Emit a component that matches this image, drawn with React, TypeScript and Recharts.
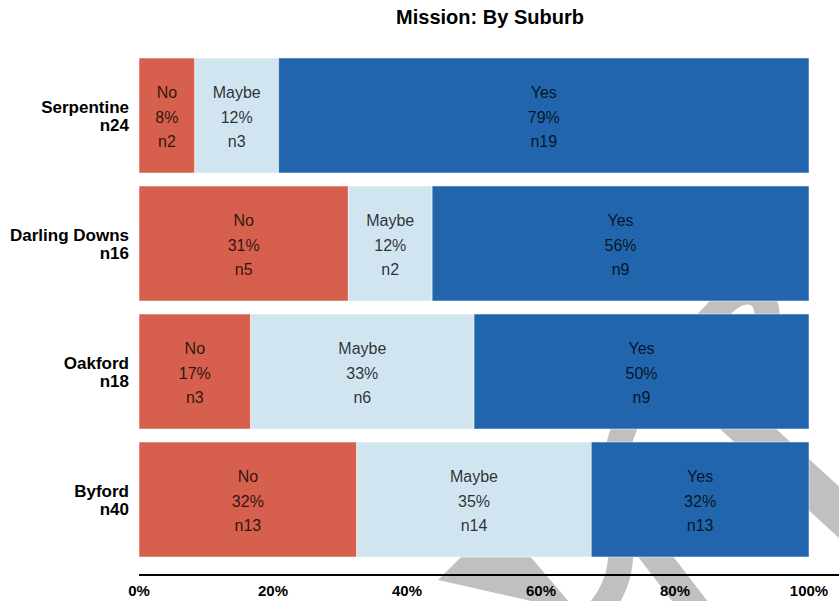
import React from 'react';
import { BarChart, Bar, XAxis, YAxis, LabelList } from 'recharts';

// Mission survey answers by suburb (counts and the printed percentages)
const suburbs = ['Serpentine', 'Darling Downs', 'Oakford', 'Byford'];
const totals = [24, 16, 18, 40];
const noCounts = [2, 5, 3, 13];
const maybeCounts = [3, 2, 6, 14];
const yesCounts = [19, 9, 9, 13];
const noPct = [8, 31, 17, 32];
const maybePct = [12, 12, 33, 35];
const yesPct = [79, 56, 50, 32];
const xTicks = [0, 0.2, 0.4, 0.6, 0.8, 1];

const data = suburbs.map((suburb, i) => ({
  suburb,
  No: noCounts[i],
  Maybe: maybeCounts[i],
  Yes: yesCounts[i],
}));

const WIDTH = 839;
const HEIGHT = 601;
const FONT = '"Liberation Sans", Arial, sans-serif';

const COLORS = {
  No: '#d6604d',
  Maybe: '#d1e5f0',
  Yes: '#2166ac',
};

const SuburbTick = (props: any) => {
  const { x, y, payload } = props;
  const i = suburbs.indexOf(payload.value);
  return (
    <text x={x} y={y} textAnchor="end" fontFamily={FONT} fontWeight="bold" fontSize={17} fill="#000">
      <tspan x={x} dy={-2}>{payload.value}</tspan>
      <tspan x={x} dy={18}>n{totals[i]}</tspan>
    </text>
  );
};

const renderSegLabel = (props: any, name: string, counts: number[], pct: number[]) => {
  const { x, y, width, height, index } = props;
  const cx = Number(x) + Number(width) / 2;
  const cy = Number(y) + Number(height) / 2;
  return (
    <text x={cx} textAnchor="middle" fontFamily={FONT} fontSize={16} fill="#000" fillOpacity={0.8}>
      <tspan x={cx} y={cy - 17.5}>{name}</tspan>
      <tspan x={cx} y={cy + 7}>{pct[index]}%</tspan>
      <tspan x={cx} y={cy + 31}>n{counts[index]}</tspan>
    </text>
  );
};

// grey watermark strokes sitting behind the chart
const Watermark = () => (
  <svg width={WIDTH} height={HEIGHT} style={{ position: 'absolute', left: 0, top: 0 }}>
    <g fill="none" stroke="#c0c0c0" strokeLinecap="butt">
      <path
        d="M 598 612 Q 625 580 620 540 L 618 450 C 625 400, 690 340, 716 313 C 735 285, 765 285, 767 313 L 762 380"
        strokeWidth={25}
      />
      <path d="M 700 385 L 900 568" strokeWidth={38} />
      <path d="M 612 500 L 722 643" strokeWidth={28} />
    </g>
    <path d="M 438 580 L 470 548 L 523 548 L 570 603 L 540 603 Z" fill="#c0c0c0" />
  </svg>
);

const App: React.FC = () => {
  return (
    <div style={{ position: 'absolute', left: 0, top: 0, width: WIDTH, height: HEIGHT, background: '#fff', overflow: 'hidden' }}>
      <Watermark />
      <div style={{ position: 'absolute', left: 0, top: 0 }}>
        <BarChart
          width={WIDTH}
          height={HEIGHT}
          data={data}
          layout="vertical"
          stackOffset="expand"
          barSize={115}
          margin={{ top: 51, right: 30, bottom: 0, left: 0 }}
          style={{ fontFamily: FONT }}
        >
          <text x={490} y={24} textAnchor="middle" fontFamily={FONT} fontWeight="bold" fontSize={20} fill="#000">
            Mission: By Suburb
          </text>
          <XAxis
            type="number"
            domain={[0, 1]}
            ticks={xTicks}
            tickFormatter={(v: number) => `${Math.round(v * 100)}%`}
            axisLine={{ stroke: '#000', strokeWidth: 2 }}
            tickLine={false}
            tickMargin={4}
            height={26}
            tick={{ fill: '#000', fontSize: 15, fontWeight: 'bold', fontFamily: FONT }}
          />
          <YAxis
            type="category"
            dataKey="suburb"
            width={139}
            axisLine={false}
            tickLine={false}
            tickMargin={4}
            padding={{ top: 0, bottom: 12 }}
            tick={<SuburbTick />}
          />
          <Bar dataKey="No" stackId="a" fill={COLORS.No} stroke="#ffffff" strokeOpacity={0.5} strokeWidth={1} isAnimationActive={false}>
            <LabelList dataKey="No" content={(p: any) => renderSegLabel(p, 'No', noCounts, noPct)} />
          </Bar>
          <Bar dataKey="Maybe" stackId="a" fill={COLORS.Maybe} stroke="#ffffff" strokeOpacity={0.5} strokeWidth={1} isAnimationActive={false}>
            <LabelList dataKey="Maybe" content={(p: any) => renderSegLabel(p, 'Maybe', maybeCounts, maybePct)} />
          </Bar>
          <Bar dataKey="Yes" stackId="a" fill={COLORS.Yes} stroke="#ffffff" strokeOpacity={0.5} strokeWidth={1} isAnimationActive={false}>
            <LabelList dataKey="Yes" content={(p: any) => renderSegLabel(p, 'Yes', yesCounts, yesPct)} />
          </Bar>
        </BarChart>
      </div>
      {/* axis rule runs on past the plot to the page edge */}
      <div style={{ position: 'absolute', left: 809, top: 574, width: 30, height: 2, background: '#000' }} />
    </div>
  );
};

export default App;
